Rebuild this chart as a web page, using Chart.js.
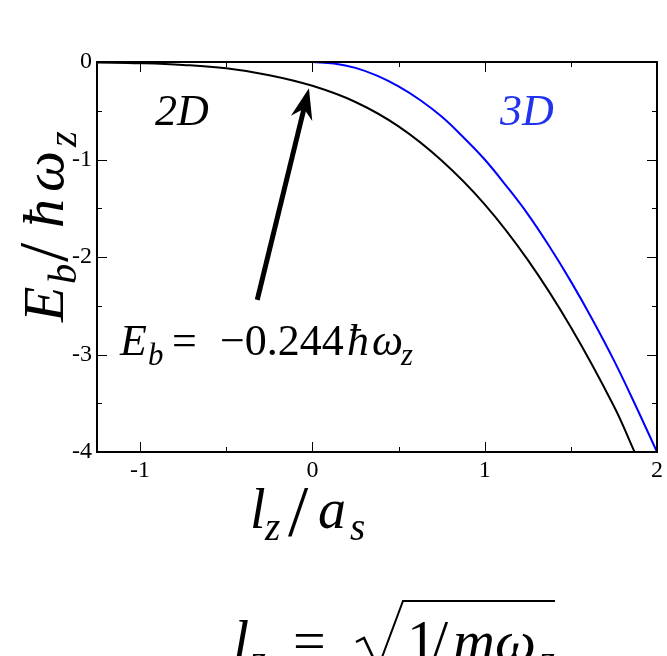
<!DOCTYPE html>
<html>
<head>
<meta charset="utf-8">
<script src="https://cdn.jsdelivr.net/npm/chart.js@4"></script>
<style>
  html, body { margin: 0; padding: 0; background: #fff; }
  #wrap { width: 667px; height: 656px; }
</style>
</head>
<body>
<div id="wrap"><canvas id="binding" width="667" height="656"></canvas></div>
<script>
// values
const x2D = [-1.25, -1.0, -0.75, -0.5, -0.25, 0, 0.25, 0.5, 0.75, 1.0, 1.25, 1.5, 1.75, 1.87];
const e2D = [-0.004, -0.012, -0.03, -0.065, -0.135, -0.244, -0.41, -0.66, -1.01, -1.46, -2.03, -2.72, -3.53, -4.0];
const x3D = [0, 0.125, 0.25, 0.375, 0.5, 0.625, 0.75, 0.875, 1.0, 1.125, 1.25, 1.375, 1.5, 1.625, 1.75, 1.875, 2.0];
const e3D = [0, -0.016, -0.06, -0.14, -0.25, -0.39, -0.56, -0.77, -1.0, -1.27, -1.56, -1.89, -2.25, -2.64, -3.06, -3.52, -4.0];
const xTicks = [-1, 0, 1, 2];
const yTicks = [0, -1, -2, -3, -4];
// arrow: tail and tip in data units
const arrowFrom = [-0.32, -2.44];
const arrowTo = [-0.02, -0.27];

const SERIF = '"Liberation Serif", "DejaVu Serif", serif';
Chart.defaults.font.family = SERIF;
Chart.defaults.color = '#000';

function toPoints(xs, ys) {
  return xs.map((x, i) => ({ x: x, y: ys[i] }));
}

// draws a math string from pieces {t, sub, it, at, scale}; "at" is an x offset from the start
function drawMath(ctx, parts, x, y, size, color) {
  ctx.save();
  ctx.fillStyle = color || '#000';
  ctx.textBaseline = 'alphabetic';
  ctx.textAlign = 'left';
  let cx = x;
  parts.forEach(p => {
    const s = (p.sub ? size * 0.7 : size) * (p.scale || 1);
    ctx.font = (p.it === false ? '' : 'italic ') + s + 'px ' + SERIF;
    const dy = (p.sub ? size * 0.22 : 0) + (p.dy || 0);
    if (p.at !== undefined) cx = x + p.at;
    ctx.fillText(p.t, cx, y + dy);
    cx += ctx.measureText(p.t).width;
  });
  ctx.restore();
  return cx;
}

const frameAndText = {
  id: 'frameAndText',
  afterDraw(chart) {
    const ctx = chart.ctx;
    const a = chart.chartArea;
    const xs = chart.scales.x, ys = chart.scales.y;

    // minor / major ticks pointing inward on all four sides
    ctx.save();
    ctx.strokeStyle = '#000';
    ctx.lineWidth = 1;
    xs.ticks.forEach(t => {
      const px = Math.round(xs.getPixelForValue(t.value)) + 0.5;
      const len = Number.isInteger(t.value) ? 10 : 5;
      ctx.beginPath();
      ctx.moveTo(px, a.bottom); ctx.lineTo(px, a.bottom - len);
      ctx.moveTo(px, a.top); ctx.lineTo(px, a.top + len);
      ctx.stroke();
    });
    ys.ticks.forEach(t => {
      const py = Math.round(ys.getPixelForValue(t.value)) + 0.5;
      const len = Number.isInteger(t.value) ? 10 : 5;
      ctx.beginPath();
      ctx.moveTo(a.left, py); ctx.lineTo(a.left + len, py);
      ctx.moveTo(a.right, py); ctx.lineTo(a.right - len, py);
      ctx.stroke();
    });
    ctx.lineWidth = 2;
    ctx.strokeRect(a.left, a.top, a.right - a.left, a.bottom - a.top);
    ctx.restore();

    // arrow
    const x0 = xs.getPixelForValue(arrowFrom[0]), y0 = ys.getPixelForValue(arrowFrom[1]);
    const x1 = xs.getPixelForValue(arrowTo[0]), y1 = ys.getPixelForValue(arrowTo[1]);
    const ang = Math.atan2(y1 - y0, x1 - x0);
    const c = Math.cos(ang), s = Math.sin(ang);
    const headLen = 27, headW = 11;
    const bx = x1 - headLen * c, by = y1 - headLen * s;
    ctx.save();
    ctx.strokeStyle = '#000';
    ctx.fillStyle = '#000';
    ctx.lineWidth = 5;
    ctx.beginPath();
    ctx.moveTo(x0, y0);
    ctx.lineTo(bx + 6 * c, by + 6 * s);
    ctx.stroke();
    ctx.beginPath();
    ctx.moveTo(x1, y1);
    ctx.lineTo(bx - headW * s - 4 * c, by + headW * c - 4 * s);
    ctx.lineTo(bx + 6 * c, by + 6 * s);
    ctx.lineTo(bx + headW * s - 4 * c, by - headW * c - 4 * s);
    ctx.closePath();
    ctx.fill();
    ctx.restore();

    // labels inside the plot
    drawMath(ctx, [{ t: '2D' }], 155, 125, 44, '#000');
    drawMath(ctx, [{ t: '3D' }], 500, 125, 44, '#2233ee');
    drawMath(ctx, [
      { t: 'E' }, { t: 'b', sub: true, at: 28 },
      { t: '=', it: false, at: 52 },
      { t: '\u22120.244', it: false, at: 100 },
      { t: '\u0127', at: 227 }, { t: '\u03c9', at: 252 }, { t: 'z', sub: true, at: 281 }
    ], 120, 355, 44, '#000');

    // axis titles
    ctx.save();
    ctx.translate(63, 322);
    ctx.rotate(-Math.PI / 2);
    drawMath(ctx, [
      { t: 'E' }, { t: 'b', sub: true, at: 38 }, { t: '/', it: false, at: 60, scale: 1.2, dy: 4 },
      { t: '\u0127', at: 94 }, { t: '\u03c9', at: 130 }, { t: 'z', sub: true, at: 175 }
    ], 0, 0, 58, '#000');
    ctx.restore();

    drawMath(ctx, [
      { t: 'l' }, { t: 'z', sub: true, at: 15 }, { t: '/', it: false, at: 38, scale: 1.3, dy: 7 },
      { t: 'a', at: 68 }, { t: 's', sub: true, at: 100 }
    ], 250, 528, 56, '#000');

    // bottom formula, clipped by the canvas edge like the reference
    drawMath(ctx, [
      { t: 'l' }, { t: 'z', sub: true, at: 17 }, { t: '=', it: false, at: 60 },
      { t: '1', it: false, at: 174 }, { t: '/', it: false, at: 199 },
      { t: 'm', at: 220 }, { t: '\u03c9', at: 262 }, { t: 'z', sub: true, at: 306 }
    ], 233, 660, 58, '#000');
    ctx.save();
    ctx.strokeStyle = '#000';
    ctx.lineWidth = 2.5;
    ctx.lineJoin = 'miter';
    ctx.beginPath();
    ctx.moveTo(356, 642);
    ctx.lineTo(364, 638);
    ctx.lineTo(378, 668);
    ctx.stroke();
    ctx.lineWidth = 2;
    ctx.beginPath();
    ctx.moveTo(378, 668);
    ctx.lineTo(403, 601);
    ctx.lineTo(555, 601);
    ctx.stroke();
    ctx.restore();
  }
};

new Chart(document.getElementById('binding'), {
  type: 'scatter',
  data: {
    datasets: [
      {
        label: '2D',
        data: toPoints(x2D, e2D),
        showLine: true,
        borderColor: '#000000',
        borderWidth: 2,
        pointRadius: 0,
        tension: 0.4
      },
      {
        label: '3D',
        data: toPoints(x3D, e3D),
        showLine: true,
        borderColor: '#0000ff',
        borderWidth: 2,
        pointRadius: 0,
        tension: 0.4
      }
    ]
  },
  options: {
    responsive: false,
    animation: false,
    layout: { padding: { top: 62, right: 10, left: 0, bottom: 0 } },
    plugins: {
      legend: { display: false },
      tooltip: { enabled: false }
    },
    scales: {
      x: {
        type: 'linear',
        min: -1.25,
        max: 2,
        grid: { display: false, drawTicks: false },
        border: { display: false },
        afterBuildTicks(scale) {
          scale.ticks = [-1.0, -0.5, 0, 0.5, 1, 1.5, 2].map(v => ({ value: v }));
        },
        ticks: {
          color: '#000',
          font: { family: SERIF, size: 24 },
          padding: 4,
          maxRotation: 0,
          autoSkip: false,
          callback: v => (xTicks.includes(v) ? String(v) : '')
        },
        afterFit(scale) { scale.height = 204; }
      },
      y: {
        min: -4,
        max: 0,
        grid: { display: false, drawTicks: false },
        border: { display: false },
        afterBuildTicks(scale) {
          scale.ticks = [0, -0.5, -1, -1.5, -2, -2.5, -3, -3.5, -4].map(v => ({ value: v }));
        },
        ticks: {
          color: '#000',
          font: { family: SERIF, size: 24 },
          padding: 5,
          autoSkip: false,
          callback: v => (yTicks.includes(v) ? String(v) : '')
        },
        afterFit(scale) { scale.width = 97; }
      }
    }
  },
  plugins: [frameAndText]
});
</script>
</body>
</html>
